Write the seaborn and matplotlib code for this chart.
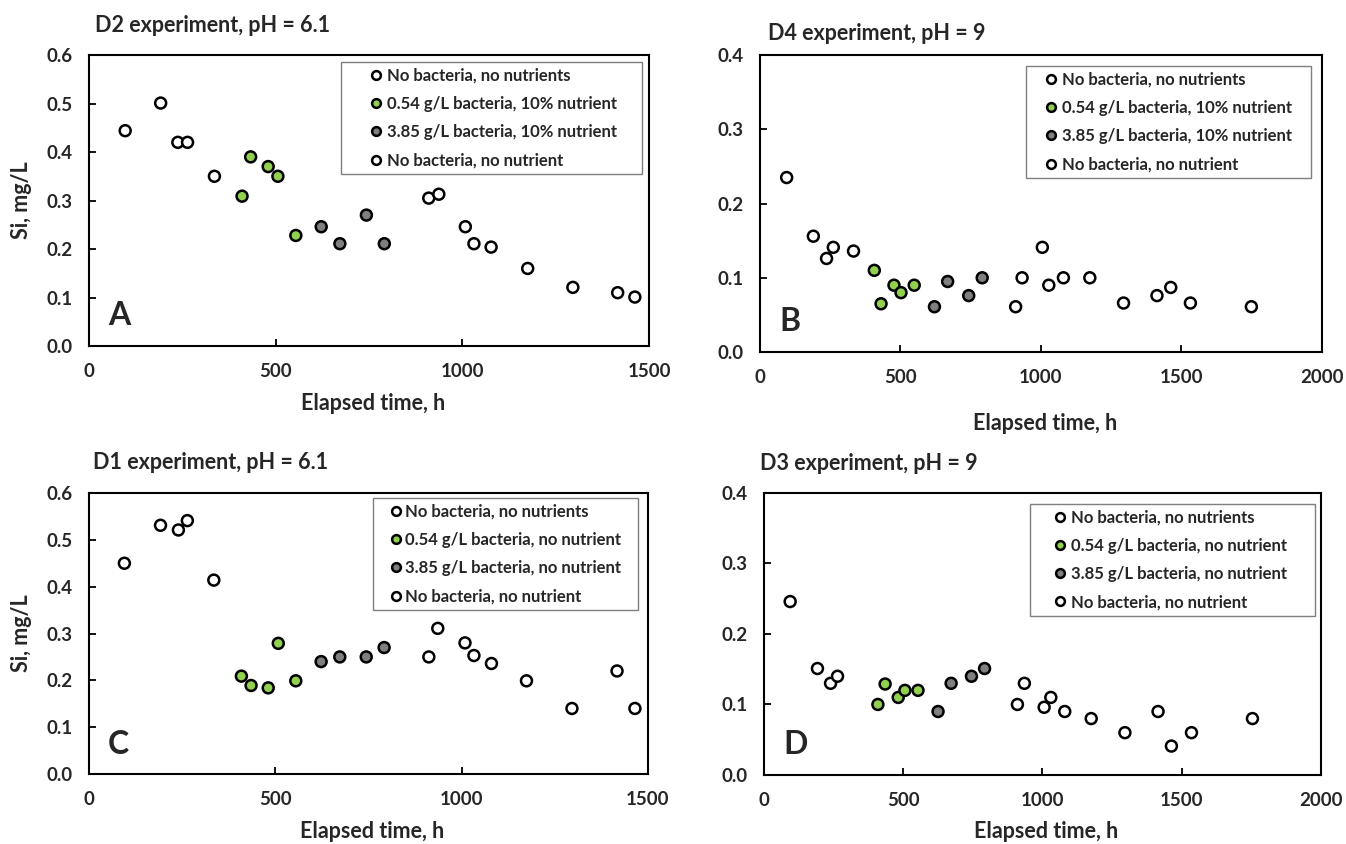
import numpy as np
import pandas as pd
import matplotlib
matplotlib.use("Agg")
import matplotlib.pyplot as plt
import seaborn as sns

sns.set_theme(style="white")
plt.rcParams['font.family'] = ['Lato', 'DejaVu Sans']
plt.rcParams['font.weight'] = 'bold'
plt.rcParams['axes.labelweight'] = 'bold'

# ---------------- data ----------------
labels_nutr = ["No bacteria, no nutrients", "0.54 g/L bacteria, 10% nutrient",
               "3.85 g/L bacteria, 10% nutrient", "No bacteria, no nutrient"]
labels_nonutr = ["No bacteria, no nutrients", "0.54 g/L bacteria, no nutrient",
                 "3.85 g/L bacteria, no nutrient", "No bacteria, no nutrient"]
series_colors = ["white", "#92D050", "#7F7F7F", "white"]

# Panel A: D2 experiment, pH = 6.1
a_t1 = [97, 192, 238, 264, 336]
a_y1 = [0.444, 0.501, 0.420, 0.420, 0.350]
a_t2 = [410, 433, 480, 506, 554]
a_y2 = [0.309, 0.390, 0.370, 0.350, 0.228]
a_t3 = [622, 672, 743, 791]
a_y3 = [0.246, 0.211, 0.270, 0.211]
a_t4 = [910, 937, 1008, 1031, 1077, 1175, 1296, 1416, 1462]
a_y4 = [0.305, 0.313, 0.246, 0.211, 0.204, 0.160, 0.121, 0.110, 0.101]

# Panel B: D4 experiment, pH = 9
b_t1 = [95, 190, 237, 261, 333]
b_y1 = [0.235, 0.156, 0.126, 0.141, 0.136]
b_t2 = [407, 431, 477, 502, 549]
b_y2 = [0.110, 0.065, 0.090, 0.080, 0.090]
b_t3 = [621, 668, 743, 791]
b_y3 = [0.061, 0.095, 0.076, 0.100]
b_t4 = [910, 933, 1005, 1028, 1080, 1174, 1294, 1413, 1462, 1532, 1749]
b_y4 = [0.061, 0.100, 0.141, 0.090, 0.100, 0.100, 0.066, 0.076, 0.087, 0.066, 0.061]

# Panel C: D1 experiment, pH = 6.1
c_t1 = [95, 192, 240, 264, 335]
c_y1 = [0.450, 0.531, 0.521, 0.541, 0.414]
c_t2 = [409, 435, 481, 508, 555]
c_y2 = [0.209, 0.189, 0.184, 0.279, 0.199]
c_t3 = [623, 673, 744, 792]
c_y3 = [0.240, 0.250, 0.250, 0.270]
c_t4 = [912, 936, 1009, 1033, 1080, 1174, 1296, 1417, 1465]
c_y4 = [0.250, 0.311, 0.280, 0.253, 0.236, 0.199, 0.140, 0.220, 0.140]

# Panel D: D3 experiment, pH = 9
d_t1 = [94, 192, 239, 264]
d_y1 = [0.246, 0.151, 0.130, 0.140]
d_t2 = [409, 435, 482, 506, 553]
d_y2 = [0.100, 0.129, 0.110, 0.120, 0.120]
d_t3 = [625, 672, 745, 792]
d_y3 = [0.090, 0.130, 0.140, 0.151]
d_t4 = [910, 935, 1006, 1030, 1080, 1175, 1296, 1415, 1463, 1535, 1754]
d_y4 = [0.100, 0.130, 0.096, 0.110, 0.090, 0.080, 0.060, 0.090, 0.041, 0.060, 0.080]

panel_titles = ["D2 experiment, pH = 6.1", "D4 experiment, pH = 9",
                "D1 experiment, pH = 6.1", "D3 experiment, pH = 9"]
panel_letters = ["A", "B", "C", "D"]
xlabel = "Elapsed time, h"
ylabel = "Si, mg/L"


def make_df(ts, ys, labels):
    rows = []
    for t, y, lab in zip(ts, ys, labels):
        for ti, yi in zip(t, y):
            rows.append((ti, yi, lab))
    return pd.DataFrame(rows, columns=["t", "si", "series"])


panels = [
    dict(df=make_df([a_t1, a_t2, a_t3, a_t4], [a_y1, a_y2, a_y3, a_y4], labels_nutr),
         labels=labels_nutr, rect=[0.0661, 0.5900, 0.4161, 0.3448],
         xlim=(0, 1500), xt=[0, 500, 1000, 1500], ylim=(0, 0.6),
         yt=np.arange(0, 0.61, 0.1), ylab=True, title_xy=(0.011, 1.10),
         xlab_y=-0.199, leg=(0.45, 0.0, 0.5375, 0.976), hl=3.5, htp=-1.09),
    dict(df=make_df([b_t1, b_t2, b_t3, b_t4], [b_y1, b_y2, b_y3, b_y4], labels_nutr),
         labels=labels_nutr, rect=[0.5646, 0.5829, 0.4175, 0.3519],
         xlim=(0, 2000), xt=[0, 500, 1000, 1500, 2000], ylim=(0, 0.4),
         yt=np.arange(0, 0.41, 0.1), ylab=False, title_xy=(0.014, 1.074),
         xlab_y=-0.239, leg=(0.474, 0.0, 0.506, 0.963), hl=2.3, htp=-0.49),
    dict(df=make_df([c_t1, c_t2, c_t3, c_t4], [c_y1, c_y2, c_y3, c_y4], labels_nonutr),
         labels=labels_nonutr, rect=[0.0661, 0.0829, 0.4153, 0.3330],
         xlim=(0, 1500), xt=[0, 500, 1000, 1500], ylim=(0, 0.6),
         yt=np.arange(0, 0.61, 0.1), ylab=True, title_xy=(0.007, 1.107),
         xlab_y=-0.206, leg=(0.508, 0.0, 0.474, 0.982), hl=2.06, htp=-0.49),
    dict(df=make_df([d_t1, d_t2, d_t3, d_t4], [d_y1, d_y2, d_y3, d_y4], labels_nonutr),
         labels=labels_nonutr, rect=[0.5676, 0.0818, 0.4138, 0.3341],
         xlim=(0, 2000), xt=[0, 500, 1000, 1500, 2000], ylim=(0, 0.4),
         yt=np.arange(0, 0.41, 0.1), ylab=False, title_xy=(-0.007, 1.106),
         xlab_y=-0.202, leg=(0.477, 0.0, 0.513, 0.961), hl=2.9, htp=-0.79),
]

fig = plt.figure(figsize=(13.46, 8.44), dpi=100)
fig.patch.set_facecolor("white")

for p, title, letter in zip(panels, panel_titles, panel_letters):
    ax = fig.add_axes(p["rect"])
    pal = dict(zip(p["labels"], series_colors))
    sns.scatterplot(data=p["df"], x="t", y="si", hue="series",
                    hue_order=p["labels"], palette=pal, s=62,
                    edgecolor="black", linewidth=1.8, ax=ax, legend=True,
                    zorder=3)
    ax.set_xlim(*p["xlim"])
    ax.set_ylim(*p["ylim"])
    ax.set_xticks(p["xt"])
    ax.set_xticklabels([str(v) for v in p["xt"]])
    ax.set_yticks(p["yt"])
    ax.set_yticklabels([f"{v:.1f}" for v in p["yt"]])
    ax.tick_params(axis="both", direction="in", length=5, width=1.3,
                   color="black", labelsize=13.5, pad=12, left=True,
                   bottom=True, top=False, right=False)
    for lab in ax.get_xticklabels() + ax.get_yticklabels():
        lab.set_fontweight("bold")
    for sp in ax.spines.values():
        sp.set_visible(True)
        sp.set_color("black")
        sp.set_linewidth(1.5)
    ax.grid(False)

    ax.set_xlabel(xlabel, fontsize=15.5, fontweight="bold")
    ax.xaxis.label.set_va("center")
    ax.xaxis.set_label_coords(0.507, p["xlab_y"])
    if p["ylab"]:
        ax.set_ylabel(ylabel, fontsize=15.5, fontweight="bold")
        ax.yaxis.label.set_va("center")
        ax.yaxis.set_label_coords(-0.12, 0.5)
    else:
        ax.set_ylabel("")

    ax.text(p["title_xy"][0], p["title_xy"][1], title, transform=ax.transAxes,
            fontsize=15.5, fontweight="bold", ha="left", va="center")
    ax.text(0.034, 0.055, letter, transform=ax.transAxes, fontsize=23,
            fontweight="bold", ha="left", va="bottom")

    sns.move_legend(ax, "upper right", bbox_to_anchor=p["leg"], mode="expand",
                    title=None, frameon=True, fancybox=False, fontsize=12,
                    edgecolor="#7F7F7F", framealpha=1, handletextpad=p["htp"],
                    labelspacing=0.73, borderpad=0.35, handlelength=p["hl"],
                    markerscale=0.8, borderaxespad=0)
    leg = ax.get_legend()
    leg.get_frame().set_linewidth(1.0)
    for t in leg.get_texts():
        t.set_fontweight("bold")

fig.savefig("out.png", dpi=100, facecolor="white")
